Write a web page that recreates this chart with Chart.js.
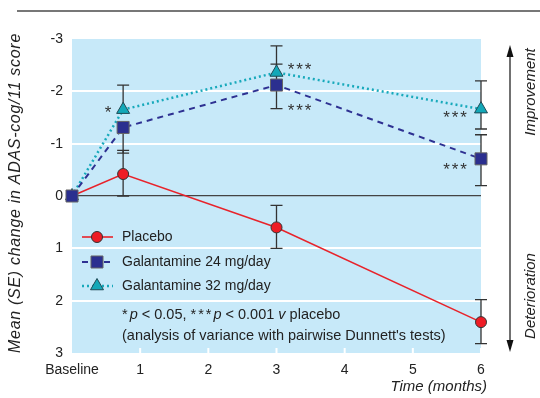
<!DOCTYPE html>
<html>
<head>
<meta charset="utf-8">
<script src="https://cdn.jsdelivr.net/npm/chart.js@4.4.1/dist/chart.umd.min.js"></script>
<style>
  html, body { margin: 0; padding: 0; background: #fff; }
  #wrap { width: 540px; height: 398px; }
</style>
</head>
<body>
<div id="wrap"><canvas id="adasChart" width="540" height="398"></canvas></div>
<script>
// time points in months (first one is baseline)
const months = [0, 0.75, 3, 6];
const xTicks = [0, 1, 2, 3, 4, 5, 6];
const yTicks = [-3, -2, -1, 0, 1, 2, 3];

const seriesNames = ["Placebo", "Galantamine 24 mg/day", "Galantamine 32 mg/day"];

// mean change, and the visible ends of the SE bars (null = hidden)
const placebo = [0, -0.42, 0.6, 2.41];
const placeboUp = [null, -0.87, 0.18, 1.98];
const placeboDown = [null, 0, 1.0, 2.82];

const gal24 = [0, -1.31, -2.12, -0.71];
const gal24Up = [null, null, -2.52, -1.17];
const gal24Down = [null, -0.82, -1.67, -0.2];

const gal32 = [0, -1.65, -2.36, -1.66];
const gal32Up = [null, -2.12, -2.87, -2.2];
const gal32Down = [null, null, null, -1.28];

const FONT = "'Liberation Sans', Arial, Helvetica, sans-serif";
const INK = "#222";

function pts(vals) {
  return vals.map((v, i) => ({ x: months[i], y: v }));
}

const styles = {
  placebo: { color: "#e8232b", fill: "#ee1c25", border: "#333", style: "circle", radius: 5.5, dash: [], width: 1.6 },
  gal24: { color: "#2e3192", fill: "#2b2f8f", border: "#666", style: "rect", radius: 8.5, dash: [6, 5], width: 2 },
  gal32: { color: "#17a9bb", fill: "#13a8b8", border: "#1f4a55", style: "triangle", radius: 7.5, dash: [2, 3], width: 2.5 }
};

function ds(label, vals, s, up, down) {
  return {
    label: label,
    data: pts(vals),
    borderColor: s.color,
    borderWidth: s.width,
    borderDash: s.dash,
    backgroundColor: s.fill,
    pointStyle: s.style,
    pointRadius: s.radius,
    pointHoverRadius: s.radius,
    pointBackgroundColor: s.fill,
    pointBorderColor: s.border,
    pointBorderWidth: 1,
    tension: 0,
    clip: false,
    errUp: up,
    errDown: down
  };
}

// dataset 0 ends up on top
const datasets = [
  ds(seriesNames[1], gal24, styles.gal24, gal24Up, gal24Down),
  ds(seriesNames[2], gal32, styles.gal32, gal32Up, gal32Down),
  ds(seriesNames[0], placebo, styles.placebo, placeboUp, placeboDown)
];

function marker(ctx, s, x, y) {
  ctx.save();
  ctx.fillStyle = s.fill;
  ctx.strokeStyle = s.border;
  ctx.lineWidth = 1;
  ctx.setLineDash([]);
  Chart.helpers.drawPoint(ctx, { pointStyle: s.style, radius: s.radius, rotation: 0, borderWidth: 1 }, x, y);
  ctx.restore();
}

function stars(ctx, n, cx, cy) {
  ctx.save();
  ctx.font = "17px " + FONT;
  ctx.fillStyle = "#333";
  ctx.textAlign = "center";
  ctx.textBaseline = "middle";
  const gap = 8.5;
  for (let i = 0; i < n; i++) {
    ctx.fillText("*", cx + (i - (n - 1) / 2) * gap, cy + 3.5);
  }
  ctx.restore();
}

function runs(ctx, parts, x, y) {
  for (const p of parts) {
    ctx.font = (p.it ? "italic " : "") + "14.5px " + FONT;
    ctx.letterSpacing = p.sp ? "2px" : "0px";
    ctx.fillText(p.t, x, y);
    x += ctx.measureText(p.t).width;
  }
  ctx.letterSpacing = "0px";
}

const decor = {
  id: "decor",
  beforeDraw(chart) {
    const { ctx, chartArea: a } = chart;
    ctx.save();
    ctx.fillStyle = "#c7e9f9";
    ctx.fillRect(a.left, a.top, a.right - a.left, a.bottom - a.top);
    ctx.restore();
  },
  beforeDatasetsDraw(chart) {
    const { ctx, chartArea: a, scales } = chart;
    const xs = scales.x, ys = scales.y;
    ctx.save();
    // small white tick marks along the bottom
    ctx.strokeStyle = "#fff";
    ctx.lineWidth = 2;
    xTicks.slice(1).forEach(t => {
      const x = xs.getPixelForValue(t);
      ctx.beginPath();
      ctx.moveTo(x, a.bottom);
      ctx.lineTo(x, a.bottom - 5);
      ctx.stroke();
    });
    // error bars
    ctx.strokeStyle = "#333";
    ctx.lineWidth = 1.3;
    chart.data.datasets.forEach(d => {
      d.data.forEach((p, i) => {
        [d.errUp[i], d.errDown[i]].forEach(end => {
          if (end === null) return;
          const x = xs.getPixelForValue(p.x);
          const y0 = ys.getPixelForValue(p.y);
          const y1 = ys.getPixelForValue(end);
          ctx.beginPath();
          ctx.moveTo(x, y0);
          ctx.lineTo(x, y1);
          ctx.moveTo(x - 6, y1);
          ctx.lineTo(x + 6, y1);
          ctx.stroke();
        });
      });
    });
    ctx.restore();
  },
  afterDraw(chart) {
    const { ctx, chartArea: a, scales } = chart;
    const xs = scales.x, ys = scales.y;
    const px = (i) => xs.getPixelForValue(months[i]);
    ctx.save();

    // significance stars
    stars(ctx, 1, px(1) - 15, ys.getPixelForValue(gal32[1]));
    stars(ctx, 3, px(2) + 23, ys.getPixelForValue(gal32[2]) - 6);
    stars(ctx, 3, px(2) + 23, ys.getPixelForValue(gal24[2]) + 23);
    stars(ctx, 3, px(3) - 26, ys.getPixelForValue(gal32[3]) + 6);
    stars(ctx, 3, px(3) - 26, ys.getPixelForValue(gal24[3]) + 8);

    // legend inside the plot
    const legend = [styles.placebo, styles.gal24, styles.gal32];
    const ly = [a.top + 198, a.top + 223, a.top + 247];
    legend.forEach((s, i) => {
      const y = ly[i];
      ctx.save();
      ctx.strokeStyle = s.color;
      ctx.lineWidth = s.width;
      ctx.setLineDash(s.dash);
      ctx.beginPath();
      ctx.moveTo(a.left + 10, y);
      ctx.lineTo(a.left + 41, y);
      ctx.stroke();
      ctx.restore();
      marker(ctx, s, a.left + 25, y);
      ctx.fillStyle = INK;
      ctx.font = "14px " + FONT;
      ctx.textAlign = "left";
      ctx.textBaseline = "middle";
      ctx.fillText(seriesNames[i], a.left + 50, y);
    });

    // footnote
    ctx.fillStyle = INK;
    ctx.textAlign = "left";
    ctx.textBaseline = "middle";
    runs(ctx, [
      { t: "*", sp: true }, { t: "p", it: true }, { t: " < 0.05, " },
      { t: "***", sp: true }, { t: "p", it: true }, { t: " < 0.001 " },
      { t: "v", it: true }, { t: " placebo" }
    ], a.left + 50, a.top + 276);
    runs(ctx, [{ t: "(analysis of variance with pairwise Dunnett's tests)" }], a.left + 50, a.top + 297);

    // top rule
    ctx.strokeStyle = "#777";
    ctx.lineWidth = 2;
    ctx.beginPath();
    ctx.moveTo(17, 11);
    ctx.lineTo(540, 11);
    ctx.stroke();

    // y title
    ctx.save();
    ctx.translate(16, (a.top + a.bottom) / 2 - 3);
    ctx.rotate(-Math.PI / 2);
    ctx.font = "italic 16px " + FONT;
    ctx.letterSpacing = "0.7px";
    ctx.textAlign = "center";
    ctx.textBaseline = "middle";
    ctx.fillStyle = INK;
    ctx.fillText("Mean (SE) change in ADAS-cog/11 score", 0, 0);
    ctx.restore();

    // x title
    ctx.font = "italic 15px " + FONT;
    ctx.textAlign = "right";
    ctx.textBaseline = "middle";
    ctx.fillStyle = INK;
    ctx.fillText("Time (months)", a.right + 6, 387);

    // improvement / deterioration arrow
    const ax = 510, ay0 = 45, ay1 = 352;
    ctx.strokeStyle = "#111";
    ctx.fillStyle = "#111";
    ctx.lineWidth = 1.2;
    ctx.beginPath();
    ctx.moveTo(ax, ay0 + 8);
    ctx.lineTo(ax, ay1 - 8);
    ctx.stroke();
    ctx.beginPath();
    ctx.moveTo(ax, ay0);
    ctx.lineTo(ax - 3.5, ay0 + 12);
    ctx.lineTo(ax + 3.5, ay0 + 12);
    ctx.closePath();
    ctx.fill();
    ctx.beginPath();
    ctx.moveTo(ax, ay1);
    ctx.lineTo(ax - 3.5, ay1 - 12);
    ctx.lineTo(ax + 3.5, ay1 - 12);
    ctx.closePath();
    ctx.fill();

    ctx.font = "italic 15px " + FONT;
    ctx.textBaseline = "middle";
    ctx.textAlign = "center";
    ctx.fillStyle = INK;
    [["Improvement", 92], ["Deterioration", 296]].forEach(([t, cy]) => {
      ctx.save();
      ctx.translate(531, cy);
      ctx.rotate(-Math.PI / 2);
      ctx.fillText(t, 0, 0);
      ctx.restore();
    });

    ctx.restore();
  }
};

new Chart(document.getElementById("adasChart"), {
  type: "line",
  data: { datasets: datasets },
  options: {
    responsive: false,
    animation: false,
    devicePixelRatio: 1,
    layout: { padding: { top: 39, right: 59, left: 0, bottom: 0 } },
    plugins: { legend: { display: false }, tooltip: { enabled: false } },
    scales: {
      x: {
        type: "linear",
        min: 0,
        max: 6,
        afterBuildTicks: (s) => { s.ticks = xTicks.map(v => ({ value: v })); },
        afterFit: (s) => { s.height = 45; },
        ticks: {
          padding: 1,
          color: INK,
          font: { family: FONT, size: 14 },
          callback: (v) => (v === 0 ? "Baseline" : String(v))
        },
        grid: { display: false },
        border: { display: false }
      },
      y: {
        type: "linear",
        reverse: true,
        min: -3,
        max: 3,
        afterBuildTicks: (s) => { s.ticks = yTicks.map(v => ({ value: v })); },
        afterFit: (s) => { s.width = 72; },
        ticks: {
          padding: 9,
          color: INK,
          font: { family: FONT, size: 14 },
          callback: (v) => String(v)
        },
        grid: {
          drawTicks: false,
          color: (c) => {
            const v = c.tick.value;
            if (v === 0) return "#444";
            if (v === -3 || v === 3) return "rgba(0,0,0,0)";
            return "#ffffff";
          },
          lineWidth: (c) => (c.tick.value === 0 ? 1.3 : 2)
        },
        border: { display: false }
      }
    }
  },
  plugins: [decor]
});
</script>
</body>
</html>
